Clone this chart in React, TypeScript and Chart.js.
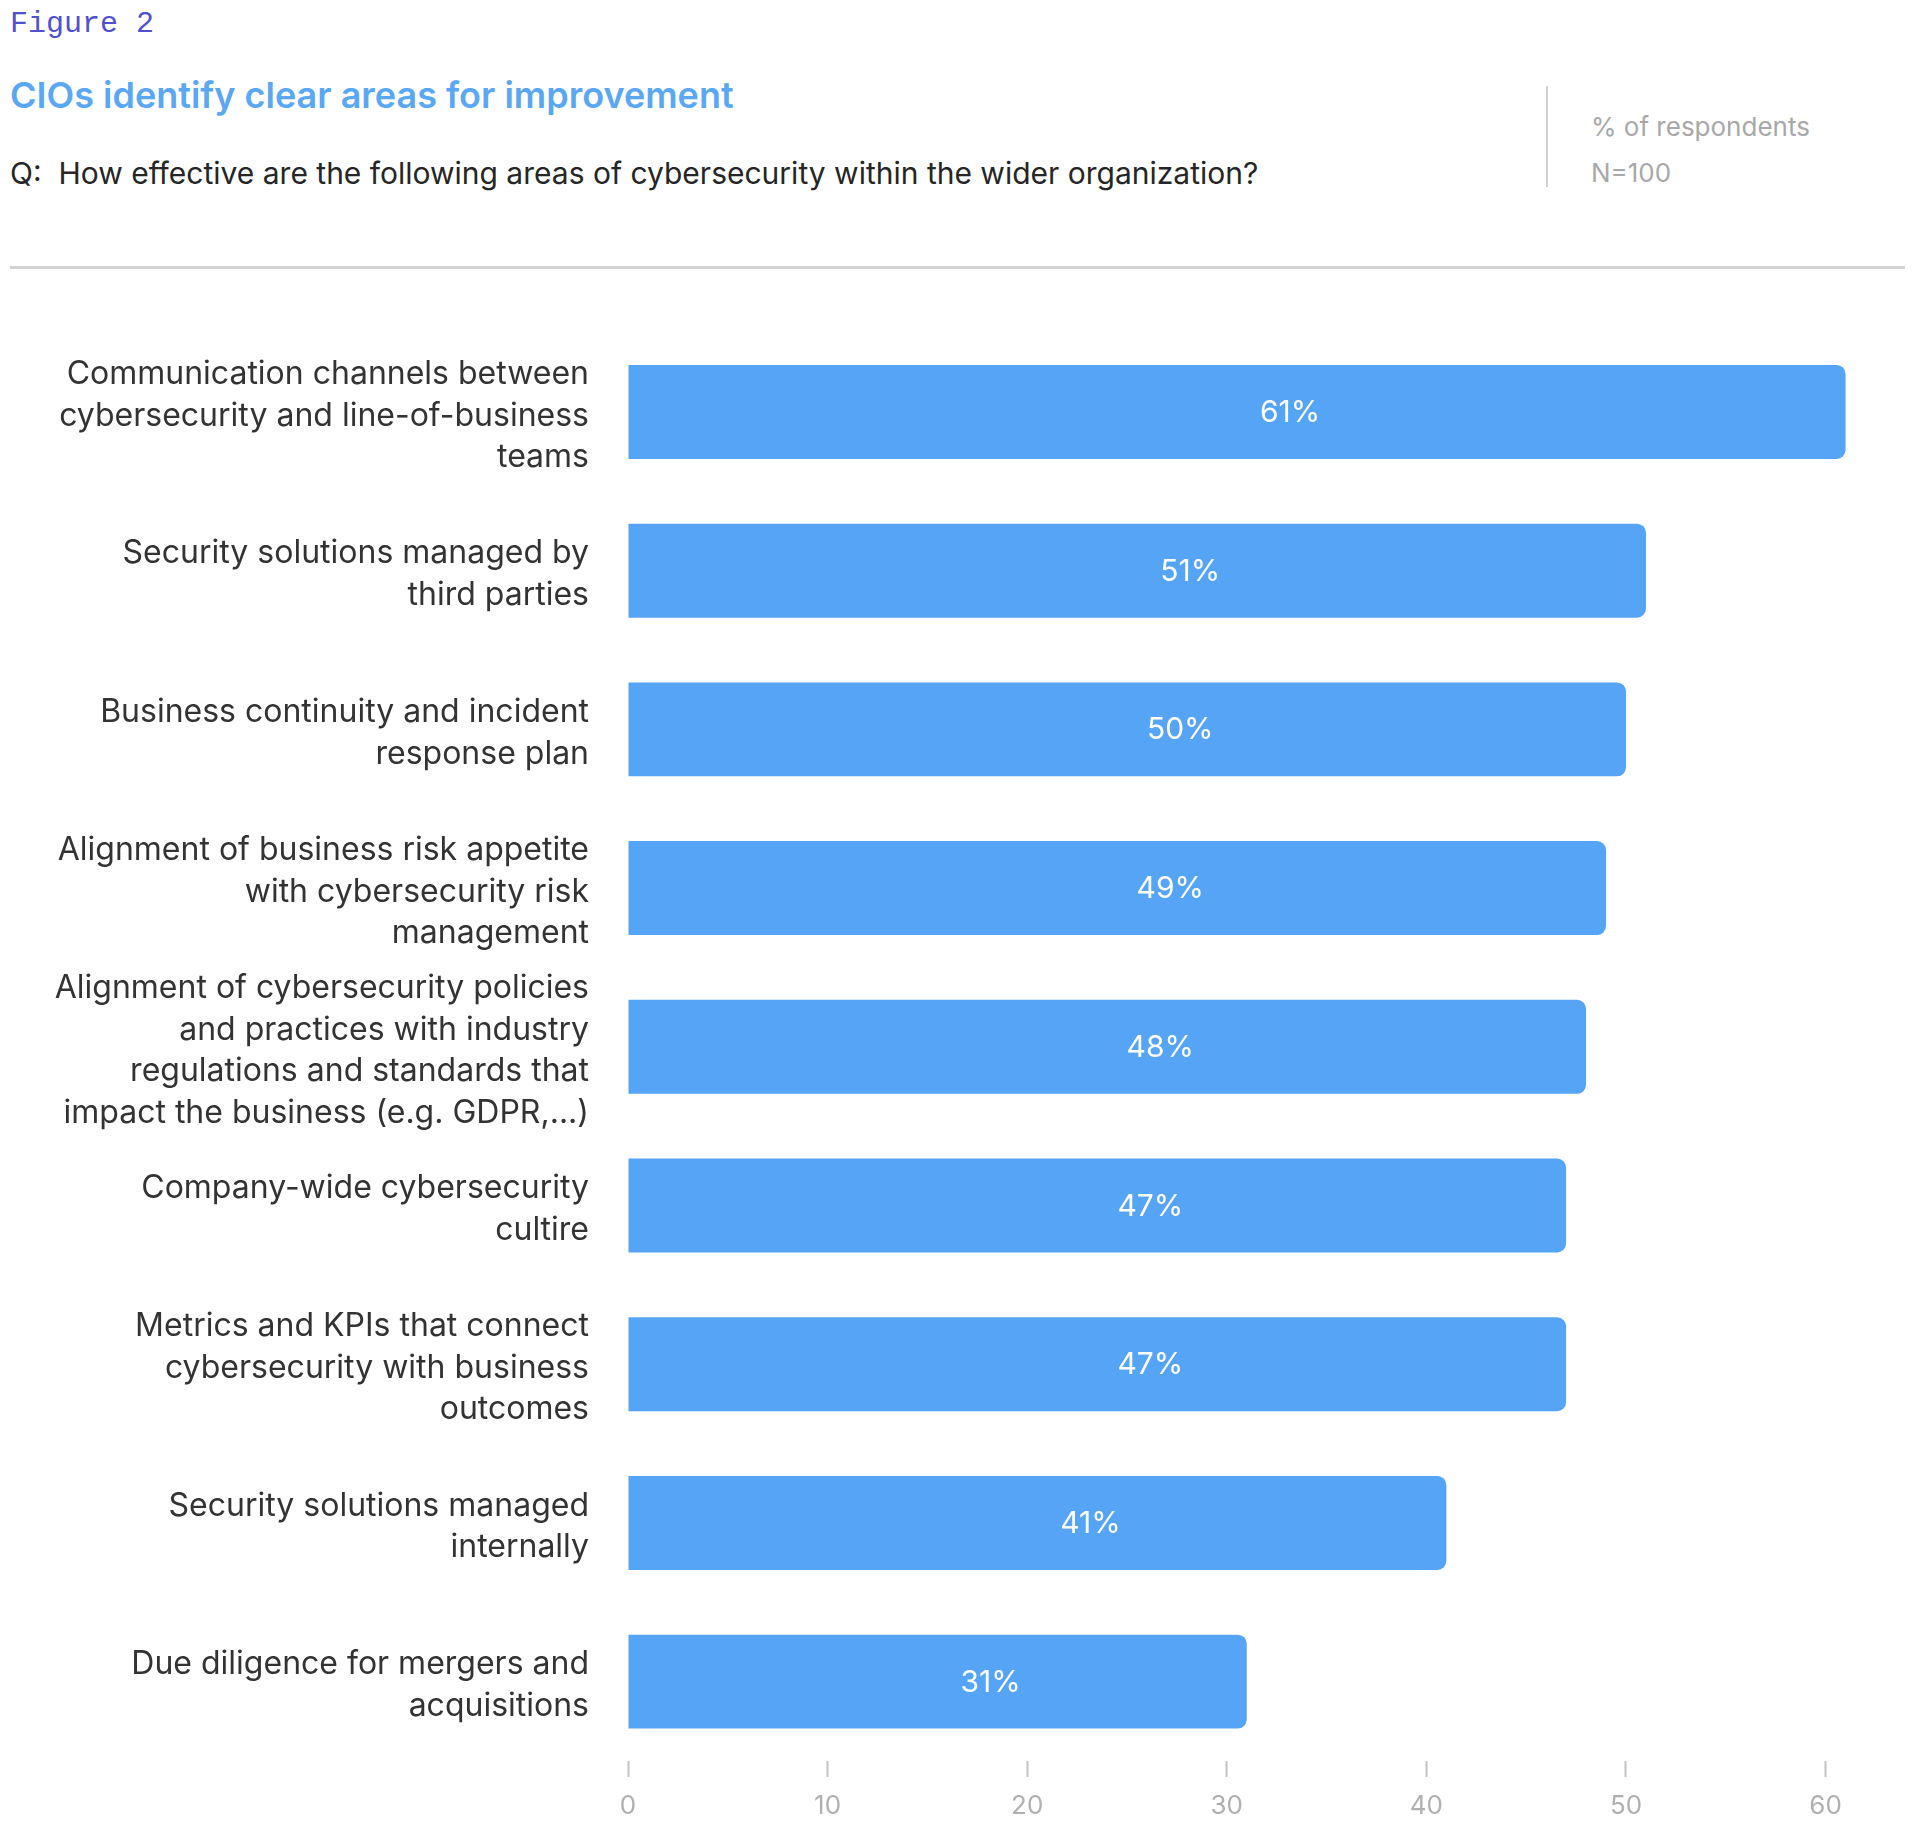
import React, { useEffect, useRef } from "react";
import { Chart, registerables } from "chart.js";

Chart.register(...registerables);

// Survey areas (multi-line labels) and share of respondents (%)
const categories: string[][] = [
  ["Communication channels between", "cybersecurity and line-of-business", "teams"],
  ["Security solutions managed by", "third parties"],
  ["Business continuity and incident", "response plan"],
  ["Alignment of business risk appetite", "with cybersecurity risk", "management"],
  ["Alignment of cybersecurity policies", "and practices with industry", "regulations and standards that", "impact the business (e.g. GDPR,...)"],
  ["Company-wide cybersecurity", "cultire"],
  ["Metrics and KPIs that connect", "cybersecurity with business", "outcomes"],
  ["Security solutions managed", "internally"],
  ["Due diligence for mergers and", "acquisitions"],
];
const values: number[] = [61, 51, 50, 49, 48, 47, 47, 41, 31];
const xTicks: number[] = [0, 10, 20, 30, 40, 50, 60];

const BAR_COLOR = "#56a4f6";

// Writes the percentage inside each bar
const valueLabels = {
  id: "valueLabels",
  afterDatasetsDraw(chart: any) {
    const ctx = chart.ctx;
    const meta = chart.getDatasetMeta(0);
    ctx.save();
    ctx.fillStyle = "#ffffff";
    ctx.font = "400 30px Inter";
    ctx.textAlign = "center";
    ctx.textBaseline = "middle";
    meta.data.forEach((bar: any, i: number) => {
      const cx = (bar.base + bar.x) / 2 + 53;
      ctx.fillText(`${values[i]}%`, cx, bar.y + 1);
    });
    ctx.restore();
  },
};

function BarChart() {
  const ref = useRef<HTMLCanvasElement | null>(null);
  useEffect(() => {
    if (!ref.current) return;
    const chart = new Chart(ref.current, {
      type: "bar",
      data: {
        labels: categories,
        datasets: [
          {
            data: values,
            backgroundColor: BAR_COLOR,
            borderRadius: 9,
            borderSkipped: "start",
            barPercentage: 0.592,
            categoryPercentage: 1,
          },
        ],
      },
      options: {
        indexAxis: "y",
        animation: false,
        responsive: false,
        maintainAspectRatio: false,
        layout: { padding: { top: 52.6, right: 46.5, bottom: 0, left: 0 } },
        plugins: {
          legend: { display: false },
          tooltip: { enabled: false },
        },
        scales: {
          x: {
            min: 0,
            max: 62,
            afterBuildTicks: (scale: any) => {
              scale.ticks = xTicks.map((v) => ({ value: v }));
            },
            afterFit: (scale: any) => {
              scale.height = 74;
              scale.paddingLeft = 0;
              scale.paddingRight = 0;
            },
            grid: {
              display: true,
              drawOnChartArea: false,
              drawTicks: true,
              tickLength: 16,
              tickColor: "#c2c2c2",
              tickWidth: 2,
            },
            border: { display: false },
            ticks: {
              padding: 14,
              color: "#b0b0b0",
              font: { family: "Inter", size: 26 },
            },
          },
          y: {
            afterFit: (scale: any) => {
              scale.width = 620;
              scale.paddingTop = 0;
              scale.paddingBottom = 0;
            },
            grid: { display: false, drawTicks: false },
            border: { display: false },
            ticks: {
              autoSkip: false,
              padding: 39,
              labelOffset: 4,
              color: "#333333",
              font: { family: "Inter", size: 32, lineHeight: 1.3 },
            },
          },
        },
      },
      plugins: [valueLabels],
    });
    return () => chart.destroy();
  }, []);
  return (
    <canvas
      ref={ref}
      width={1904}
      height={1555}
      style={{ position: "absolute", left: 0, top: 272, width: 1904, height: 1555 }}
    />
  );
}

export default function App() {
  const abs = (left: number, top: number, extra: React.CSSProperties = {}): React.CSSProperties => ({
    position: "absolute",
    left,
    top,
    whiteSpace: "pre",
    lineHeight: 1,
    ...extra,
  });
  return (
    <div style={{ position: "relative", width: 1904, height: 1827, background: "#fff", overflow: "hidden" }}>
      <div style={abs(2, 1, { fontFamily: "'Liberation Mono', monospace", fontSize: 30, color: "#5050d0" })}>Figure 2</div>
      <div style={abs(2, 69, { fontFamily: "Inter", fontSize: 36, fontWeight: 600, color: "#5aa8f4" })}>
        CIOs identify clear areas for improvement
      </div>
      <div style={abs(2, 150, { fontFamily: "Inter", fontSize: 30, color: "#262626" })}>
        {"Q:  How effective are the following areas of cybersecurity within the wider organization?"}
      </div>
      <div style={{ position: "absolute", left: 1538, top: 78, width: 2, height: 101, background: "#d0d0d0" }} />
      <div style={abs(1583, 106, { fontFamily: "Inter", fontSize: 26, color: "#a8a8a8" })}>% of respondents</div>
      <div style={abs(1583, 152, { fontFamily: "Inter", fontSize: 26, color: "#a8a8a8" })}>N=100</div>
      <div style={{ position: "absolute", left: 2, top: 258, width: 1895, height: 3, background: "#d2d2d2" }} />
      <BarChart />
    </div>
  );
}
